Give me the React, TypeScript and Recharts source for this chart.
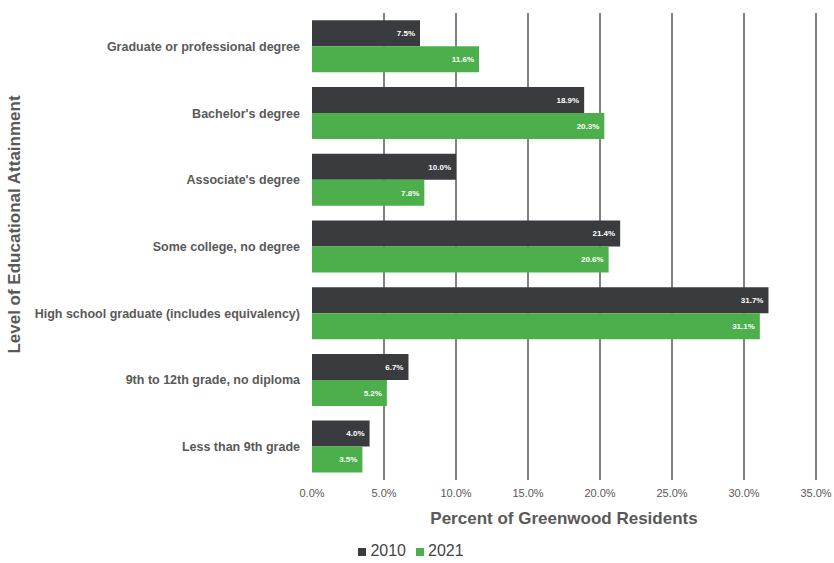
import { Bar, BarChart, CartesianGrid, LabelList, Legend, XAxis, YAxis } from "recharts";

const levels = [
  "Graduate or professional degree",
  "Bachelor's degree",
  "Associate's degree",
  "Some college, no degree",
  "High school graduate (includes equivalency)",
  "9th to 12th grade, no diploma",
  "Less than 9th grade",
];
const pct2010 = [7.5, 18.9, 10.0, 21.4, 31.7, 6.7, 4.0];
const pct2021 = [11.6, 20.3, 7.8, 20.6, 31.1, 5.2, 3.5];
const xTicks = [0, 5, 10, 15, 20, 25, 30, 35];

const data = levels.map((level, i) => ({ level, y2010: pct2010[i], y2021: pct2021[i] }));

const gray = "#595959";
const dark = "#3a3b3f";
const green = "#4caf4c";
const fmt = (v: number) => `${v.toFixed(1)}%`;

// y title sits a bit above the plot's middle in the original
const YTitle = ({ viewBox }: any) => {
  const x = viewBox.x + 20;
  const y = viewBox.y + viewBox.height / 2 - 22;
  return (
    <text
      x={x}
      y={y}
      transform={`rotate(-90, ${x}, ${y})`}
      textAnchor="middle"
      fontSize={17}
      fontWeight={700}
      fill={gray}
    >
      Level of Educational Attainment
    </text>
  );
};

export default function App() {
  return (
    <div style={{ position: "absolute", left: 0, top: 0, fontFamily: "'Liberation Sans', Arial, sans-serif" }}>
      <BarChart
        width={834}
        height={563}
        data={data}
        layout="vertical"
        margin={{ top: 13, right: 18, left: 0, bottom: 0 }}
        barCategoryGap="11%"
        barGap={0}
      >
        <CartesianGrid horizontal={false} verticalValues={xTicks.slice(1)} stroke={gray} strokeWidth={1.5} />
        <XAxis
          type="number"
          domain={[0, 35]}
          ticks={xTicks}
          tickFormatter={fmt}
          axisLine={false}
          tickLine={false}
          tickSize={0}
          tickMargin={9}
          height={62}
          tick={{ fontSize: 11, fill: gray }}
          label={{
            value: "Percent of Greenwood Residents",
            position: "insideBottom",
            offset: 18,
            style: { fontSize: 17, fontWeight: 700, fill: gray },
          }}
        />
        <YAxis
          type="category"
          dataKey="level"
          width={312}
          axisLine={false}
          tickLine={false}
          tickSize={0}
          tickMargin={12}
          tick={{ fontSize: 12.5, fontWeight: 700, fill: gray }}
          label={<YTitle />}
        />
        <Legend
          verticalAlign="bottom"
          height={21}
          iconType="square"
          iconSize={8}
          wrapperStyle={{ paddingLeft: 8, fontSize: 16 }}
          formatter={(value) => <span style={{ color: "#444" }}>{value}</span>}
        />
        <Bar dataKey="y2010" name="2010" fill={dark} isAnimationActive={false}>
          <LabelList dataKey="y2010" position="insideRight" formatter={fmt} style={{ fill: "#fff", fontSize: 8, fontWeight: 700 }} />
        </Bar>
        <Bar dataKey="y2021" name="2021" fill={green} isAnimationActive={false}>
          <LabelList dataKey="y2021" position="insideRight" formatter={fmt} style={{ fill: "#fff", fontSize: 8, fontWeight: 700 }} />
        </Bar>
      </BarChart>
    </div>
  );
}
